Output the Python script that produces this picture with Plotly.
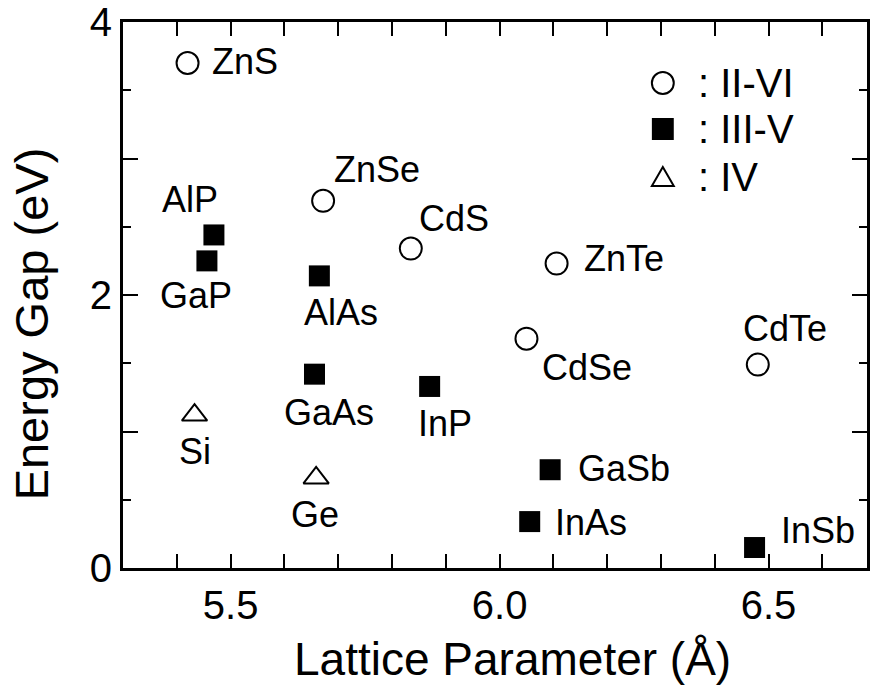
import plotly.graph_objects as go

# ---- data ----
ii_vi_names = ["ZnS", "ZnSe", "CdS", "ZnTe", "CdSe", "CdTe"]
ii_vi_a = [5.42, 5.672, 5.835, 6.106, 6.05, 6.48]
ii_vi_eg = [3.70, 2.69, 2.34, 2.23, 1.68, 1.49]

iii_v_names = ["AlP", "GaP", "AlAs", "GaAs", "InP", "GaSb", "InAs", "InSb"]
iii_v_a = [5.469, 5.456, 5.665, 5.656, 5.870, 6.094, 6.056, 6.474]
iii_v_eg = [2.44, 2.25, 2.14, 1.42, 1.33, 0.72, 0.34, 0.15]

iv_names = ["Si", "Ge"]
iv_a = [5.433, 5.659]
iv_eg = [1.12, 0.66]

group_names = ["II-VI", "III-V", "IV"]

x_title = "Lattice Parameter (Å)"
y_title = "Energy Gap (eV)"
x_tick_vals = [5.5, 6.0, 6.5]
x_tick_text = ["5.5", "6.0", "6.5"]
y_tick_vals = [0, 1, 2, 3, 4]
y_tick_text = ["0", "", "2", "", "4"]

# label offsets (pixels) : name -> (xshift, yshift)
label_offsets = {
    "ZnS": (57, 1), "ZnSe": (54, 31), "CdS": (43, 30), "ZnTe": (67, 5),
    "CdSe": (61, -29), "CdTe": (27, 36),
    "AlP": (-24, 35), "GaP": (-11, -35), "AlAs": (22, -37), "GaAs": (14, -38),
    "InP": (15, -37), "GaSb": (74, 1), "InAs": (61, -1), "InSb": (63, 17),
    "Si": (0, -36), "Ge": (-1, -37),
}

FONT = "Liberation Sans, Arial, Helvetica, sans-serif"
W, H = 870, 689
ML, MR, MT, MB = 123, 0, 22, 121
PW, PH = W - ML - MR, H - MT - MB


def px(xp):
    return (xp - ML) / PW


def py(yp):
    return (H - MB - yp) / PH


fig = go.Figure()
fig.add_trace(go.Scatter(
    x=ii_vi_a, y=ii_vi_eg, mode="markers", name=group_names[0],
    marker=dict(symbol="circle-open", size=22, color="black", line=dict(width=2, color="black")),
))
fig.add_trace(go.Scatter(
    x=iii_v_a, y=iii_v_eg, mode="markers", name=group_names[1],
    marker=dict(symbol="square", size=21, color="black", line=dict(width=0)),
))
fig.add_trace(go.Scatter(
    x=iv_a, y=iv_eg, mode="markers", name=group_names[2],
    marker=dict(symbol="triangle-up-open", size=22, color="black", line=dict(width=2, color="black")),
))

annotations = []
for names, xs, ys in [(ii_vi_names, ii_vi_a, ii_vi_eg), (iii_v_names, iii_v_a, iii_v_eg), (iv_names, iv_a, iv_eg)]:
    for n, xv, yv in zip(names, xs, ys):
        dx, dy = label_offsets[n]
        annotations.append(dict(
            x=xv, y=yv, xref="x", yref="y", text=n, showarrow=False,
            xanchor="center", yanchor="middle", xshift=dx, yshift=dy,
            font=dict(family=FONT, size=36, color="black"),
        ))

# ---- hand-drawn key (top right) ----
key_rows_y = [83, 129, 177]
key_x = 665
shapes = []
shapes.append(dict(type="circle", xref="paper", yref="paper",
                   x0=px(key_x - 11), x1=px(key_x + 11), y0=py(key_rows_y[0] + 11), y1=py(key_rows_y[0] - 11),
                   line=dict(color="black", width=2), fillcolor="rgba(0,0,0,0)"))
shapes.append(dict(type="rect", xref="paper", yref="paper",
                   x0=px(key_x - 11), x1=px(key_x + 11), y0=py(key_rows_y[1] + 11), y1=py(key_rows_y[1] - 11),
                   line=dict(color="black", width=0), fillcolor="black"))
ty = key_rows_y[2]
tri = "M {} {} L {} {} L {} {} Z".format(px(key_x - 11), py(ty + 9), px(key_x + 11), py(ty + 9), px(key_x), py(ty - 10))
shapes.append(dict(type="path", xref="paper", yref="paper", path=tri,
                   line=dict(color="black", width=2), fillcolor="rgba(0,0,0,0)"))
for gname, ry in zip(group_names, key_rows_y):
    annotations.append(dict(
        x=px(698), y=py(ry), xref="paper", yref="paper", text=": " + gname, showarrow=False,
        xanchor="left", yanchor="middle", font=dict(family=FONT, size=40, color="black"),
    ))

# ---- axis titles ----
annotations.append(dict(
    x=px(514), y=py(659), xref="paper", yref="paper", text=x_title, showarrow=False,
    xanchor="center", yanchor="middle", font=dict(family=FONT, size=46, color="black"),
))
annotations.append(dict(
    x=px(31), y=py(324), xref="paper", yref="paper", text=y_title, showarrow=False, textangle=-90,
    xanchor="center", yanchor="middle", font=dict(family=FONT, size=47, color="black"),
))

fig.update_layout(
    width=W, height=H,
    margin=dict(l=ML, r=MR, t=MT, b=MB),
    paper_bgcolor="white", plot_bgcolor="white",
    font=dict(family=FONT, color="black"),
    annotations=annotations,
    shapes=shapes,
    showlegend=False,
    xaxis=dict(
        range=[5.3, 6.683], showgrid=False, zeroline=False,
        showline=True, linewidth=3, linecolor="black", mirror="allticks",
        ticks="inside", ticklen=14, tickwidth=2, tickcolor="black",
        tickvals=x_tick_vals, ticktext=x_tick_text,
        tickfont=dict(family=FONT, size=40, color="black"),
        minor=dict(dtick=0.1, tick0=5.3, ticks="inside", ticklen=14, tickwidth=2, tickcolor="black", showgrid=False),
    ),
    yaxis=dict(
        range=[0, 4], showgrid=False, zeroline=False,
        showline=True, linewidth=3, linecolor="black", mirror="allticks",
        ticks="inside", ticklen=15, tickwidth=2, tickcolor="black",
        tickvals=y_tick_vals, ticktext=y_tick_text,
        tickfont=dict(family=FONT, size=40, color="black"),
        minor=dict(dtick=0.5, tick0=0, ticks="inside", ticklen=8, tickwidth=2, tickcolor="black", showgrid=False),
    ),
)

fig.write_html("out.html")
